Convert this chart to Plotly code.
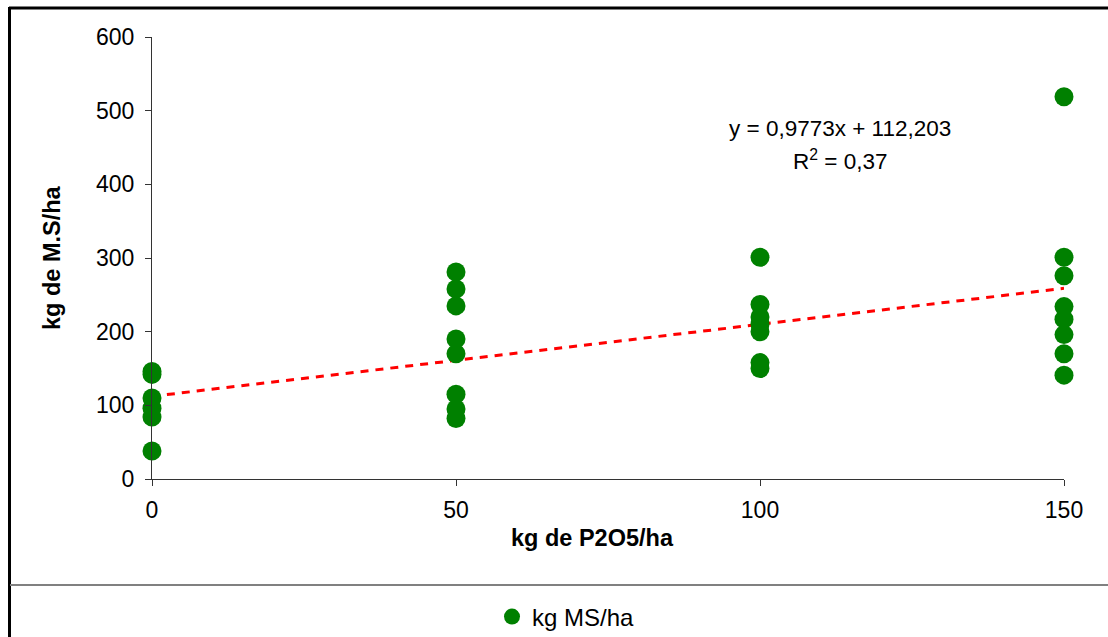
import plotly.graph_objects as go

# Data
dose_0 = [146, 142, 110, 96, 84, 38]
dose_50 = [281, 258, 235, 190, 170, 115, 95, 82]
dose_100 = [301, 237, 220, 210, 200, 158, 150]
dose_150 = [519, 301, 276, 234, 217, 196, 170, 141]
doses = [0, 50, 100, 150]
slope = 0.9773
intercept = 112.203
x_ticks = [0, 50, 100, 150]
y_ticks = [0, 100, 200, 300, 400, 500, 600]

xs, ys = [], []
for d, vals in zip(doses, [dose_0, dose_50, dose_100, dose_150]):
    xs += [d] * len(vals)
    ys += vals

trend_x = [doses[0], doses[-1]]
trend_y = [slope * v + intercept for v in trend_x]

FONT = "Liberation Sans, Arial, sans-serif"

# Pixel geometry helpers (plot area: x 152..1064, y 37..479)
L, R, T, B = 152, 1064, 37, 479
def px(p):
    return (p - L) / (R - L)
def py(q):
    return (B - q) / (B - T)

fig = go.Figure()
fig.add_trace(go.Scatter(
    x=trend_x, y=trend_y, mode="lines",
    line=dict(color="#FF0000", width=3, dash="8px,7px"),
    showlegend=False, hoverinfo="skip"))
fig.add_trace(go.Scatter(
    x=xs, y=ys, mode="markers", name="kg MS/ha",
    marker=dict(color="#008000", size=19, line=dict(width=0)),
    cliponaxis=False))

fig.update_layout(
    width=1108, height=637,
    margin=dict(l=L, r=1108 - R, t=T, b=637 - B, autoexpand=False),
    paper_bgcolor="white", plot_bgcolor="white",
    font=dict(family=FONT, size=20, color="black"),
    showlegend=True,
    legend=dict(x=px(566), y=py(617), xanchor="center", yanchor="middle",
                font=dict(family=FONT, size=24, color="black"),
                bgcolor="rgba(0,0,0,0)", itemsizing="trace", itemwidth=30),
    xaxis=dict(range=[0, 150], tickvals=x_ticks, showgrid=False, zeroline=False,
               showline=True, linecolor="#333333", linewidth=1,
               ticks="outside", ticklen=6, tickcolor="#333333",
               ticklabelstandoff=4,
               tickfont=dict(family=FONT, size=23), fixedrange=True),
    yaxis=dict(range=[0, 600], tickvals=y_ticks, showgrid=False, zeroline=False,
               showline=True, linecolor="#333333", linewidth=1,
               ticks="outside", ticklen=6, tickcolor="#333333",
               ticklabelstandoff=6,
               tickfont=dict(family=FONT, size=23), fixedrange=True),
)

# Axis titles
fig.add_annotation(text="<b>kg de P2O5/ha</b>", xref="paper", yref="paper",
                   x=px(592), y=py(538), showarrow=False,
                   font=dict(family=FONT, size=23.5), xanchor="center", yanchor="middle")
fig.add_annotation(text="<b>kg de M.S/ha</b>", xref="paper", yref="paper",
                   x=px(52), y=py(258), showarrow=False, textangle=-90,
                   font=dict(family=FONT, size=23.5), xanchor="center", yanchor="middle")

# Equation
fig.add_annotation(text="y = 0,9773x + 112,203", xref="paper", yref="paper",
                   x=px(840), y=py(128), showarrow=False,
                   font=dict(family=FONT, size=22.5), xanchor="center", yanchor="middle")
fig.add_annotation(text="R<sup>2</sup> = 0,37", xref="paper", yref="paper",
                   x=px(840), y=py(160), showarrow=False,
                   font=dict(family=FONT, size=22.5), xanchor="center", yanchor="middle")

# Borders
fig.add_shape(type="line", xref="paper", yref="paper",
              x0=px(9), x1=px(1110), y0=py(8), y1=py(8),
              line=dict(color="black", width=3))
fig.add_shape(type="line", xref="paper", yref="paper",
              x0=px(9.5), x1=px(9.5), y0=py(7), y1=py(640),
              line=dict(color="black", width=3))
fig.add_shape(type="line", xref="paper", yref="paper",
              x0=px(10), x1=px(1110), y0=py(585), y1=py(585),
              line=dict(color="#808080", width=2))

fig.write_html("out.html")
